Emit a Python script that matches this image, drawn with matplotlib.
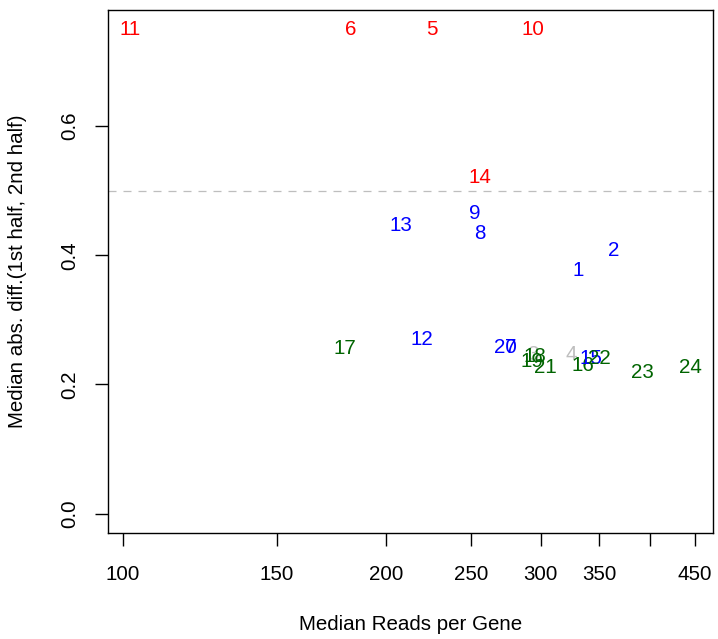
import numpy as np
import matplotlib
matplotlib.use("Agg")
import matplotlib.pyplot as plt

plt.rcParams['font.family'] = ['Liberation Sans', 'DejaVu Sans']

labels = ['11', '6', '5', '10', '14', '9', '8', '13', '2', '1', '12', '17',
          '7', '20', '3', '18', '19', '21', '4', '16', '15', '22', '23', '24']
reads = [101.9, 182.2, 225.4, 293.9, 255.7, 252.4, 255.7, 207.8, 363.7, 330.9, 219.6, 179.4,
         277.5, 273.1, 293.9, 295.5, 293.2, 303.4, 324.9, 335.3, 342.4, 349.7, 391.5, 444.2]
mad = [0.75, 0.75, 0.75, 0.75, 0.521, 0.465, 0.434, 0.447, 0.408, 0.377, 0.270, 0.255,
       0.258, 0.258, 0.247, 0.243, 0.235, 0.227, 0.247, 0.230, 0.241, 0.240, 0.219, 0.227]
groups = ['red', 'red', 'red', 'red', 'red', 'blue', 'blue', 'blue', 'blue', 'blue', 'blue', 'green',
          'blue', 'blue', 'grey', 'green', 'green', 'green', 'grey', 'green', 'blue', 'green', 'green', 'green']
palette = {'red': '#FF0000', 'blue': '#0000FF', 'green': '#006400', 'grey': '#BEBEBE'}

xticks = [100, 150, 200, 250, 300, 350, 400, 450]
xticklabels = ['100', '150', '200', '250', '300', '350', '', '450']
yticks = [0.0, 0.2, 0.4, 0.6]
threshold = 0.5

FS = 14.8
W, H = 718, 639
fig = plt.figure(figsize=(W / 100, H / 100), dpi=100)
ax = fig.add_axes([108 / W, 1 - 533 / H, (713 - 108) / W, (533 - 10) / H])

ax.set_xscale('log')
ax.set_xlim(96.2, 471.8)
ax.set_ylim(-0.03, 0.78)

for lab, x, y, g in zip(labels, reads, mad, groups):
    ax.text(x, y, lab, color=palette[g], fontsize=FS, ha='center', va='center')

ax.axhline(threshold, color='#BEBEBE', lw=0.9, dashes=(6.4, 5.6))

ax.xaxis.set_minor_locator(matplotlib.ticker.NullLocator())
ax.set_xticks(xticks)
ax.set_xticklabels(xticklabels)
ax.set_yticks(yticks)
ax.set_yticklabels(['0.0', '0.2', '0.4', '0.6'])
for lab in ax.get_yticklabels():
    lab.set_rotation(90)
    lab.set_va('center')

ax.tick_params(axis='both', length=9.4, width=1.0, labelsize=FS, color='black')
ax.tick_params(axis='x', pad=14)
ax.tick_params(axis='y', pad=11)
for s in ax.spines.values():
    s.set_linewidth(1.0)

fig.text(410.5 / W, 1 - 625 / H, 'Median Reads per Gene', fontsize=FS, ha='center', va='center')
fig.text(18 / W, 1 - 271.5 / H, 'Median abs. diff.(1st half, 2nd half)', fontsize=FS,
         ha='center', va='center', rotation=90)

fig.savefig('out.png', dpi=100)
